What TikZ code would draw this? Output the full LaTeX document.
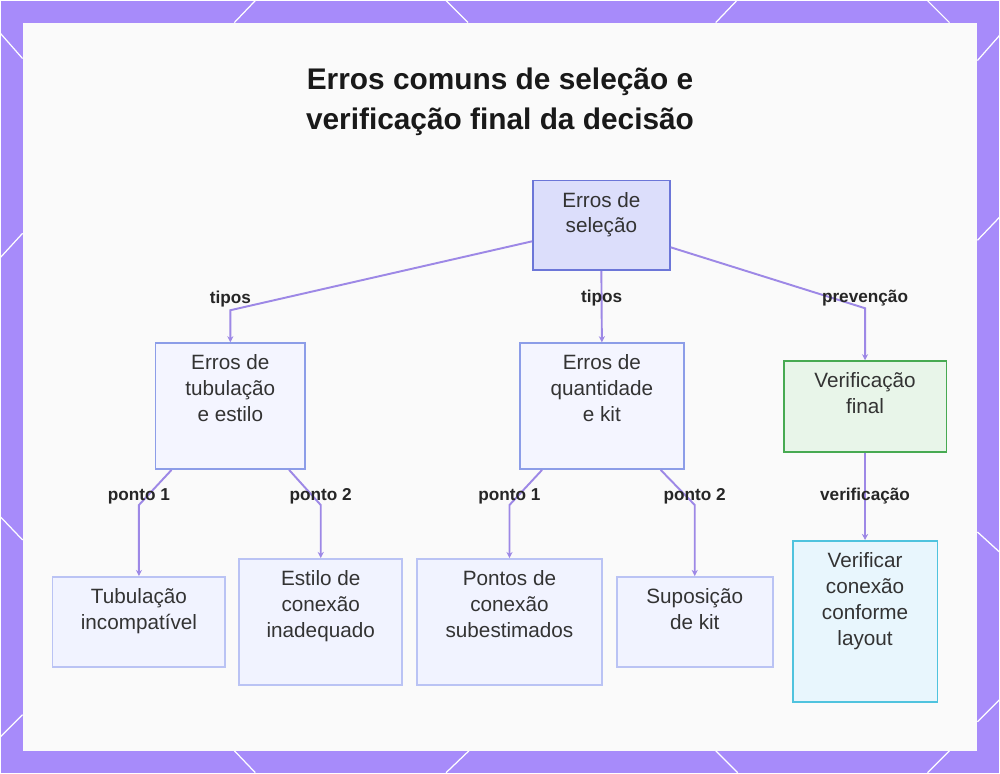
\documentclass[tikz,border=0pt]{standalone}
\usepackage{fontspec}
\setmainfont{Liberation Sans}
\usetikzlibrary{arrows.meta, positioning}

\definecolor{bgpurple}{HTML}{A78BFA}
\definecolor{panelcol}{HTML}{FAFAFA}
\definecolor{edgecol}{HTML}{9D88E6}
\definecolor{textcol}{HTML}{333333}
\definecolor{rootfill}{HTML}{DCDEFB}
\definecolor{rootdraw}{HTML}{6C76D8}
\definecolor{midfill}{HTML}{F4F5FF}
\definecolor{middraw}{HTML}{8C9DE8}
\definecolor{leaffill}{HTML}{F1F3FF}
\definecolor{leafdraw}{HTML}{BAC3F4}
\definecolor{finfill}{HTML}{E8F5E9}
\definecolor{findraw}{HTML}{47AA52}
\definecolor{verfill}{HTML}{E8F6FD}
\definecolor{verdraw}{HTML}{4FC3DE}

\begin{document}
\begin{tikzpicture}[
    x=0.02cm,
    y=-0.02cm,
    box/.style={draw, line width=1pt, inner sep=0pt},
    txt/.style={anchor=north, align=center, inner sep=7pt, text=textcol,
                font=\fontsize{11.8}{14.7}\selectfont},
    lab/.style={font=\fontsize{9.8}{11}\selectfont\bfseries, text=black!85},
    edge/.style={draw=edgecol, line width=1.1pt, -{Stealth[length=3.5pt, width=3.5pt]}},
    deco/.style={draw=white, line width=0.7pt},
]

    % background and panel
    \fill[bgpurple] (0,0) rectangle (1000,773);
    \foreach \xa/\ya/\xb/\yb in {0/33/22/58, 0/257/22/233, 0/517/22/540, 0/737/22/715,
                                 978/60/1000/35, 978/240/1000/217, 978/532/1000/552, 978/722/1000/700,
                                 255/0/234/22, 446/0/468/22, 737/0/716/22, 928/0/950/22,
                                 234/751/255/773, 469/751/446/773, 716/751/738/773, 950/751/928/773}
        \draw[deco] (\xa,\ya) -- (\xb,\yb);
    \fill[panelcol] (22,22) rectangle (978,751);

    % title
    \node[align=center, font=\fontsize{17}{22.8}\selectfont\bfseries, text=black!90] (title) at (500,101)
        {Erros comuns de seleção e\\verificação final da decisão};

    % nodes
    \node[box, fill=rootfill, draw=rootdraw, minimum width=2.74cm, minimum height=1.8cm,
          label={[txt]north:Erros de\\seleção}]                         (sel) at (601.5,225) {};
    \node[box, fill=midfill, draw=middraw, minimum width=3cm, minimum height=2.52cm,
          label={[txt]north:Erros de\\tubulação\\e estilo}]             (tub) at (230,406) {};
    \node[box, fill=midfill, draw=middraw, minimum width=3.28cm, minimum height=2.52cm,
          label={[txt]north:Erros de\\quantidade\\e kit}]               (qtd) at (602,406) {};
    \node[box, fill=finfill, draw=findraw, minimum width=3.26cm, minimum height=1.82cm,
          label={[txt]north:Verificação\\final}]                        (fin) at (865.5,406.5) {};
    \node[box, fill=leaffill, draw=leafdraw, minimum width=3.46cm, minimum height=1.8cm,
          label={[txt]north:Tubulação\\incompatível}]                   (inc) at (138.5,622) {};
    \node[box, fill=leaffill, draw=leafdraw, minimum width=3.26cm, minimum height=2.52cm,
          label={[txt]north:Estilo de\\conexão\\inadequado}]            (est) at (320.5,622) {};
    \node[box, fill=leaffill, draw=leafdraw, minimum width=3.7cm, minimum height=2.52cm,
          label={[txt]north:Pontos de\\conexão\\subestimados}]          (pts) at (509.5,622) {};
    \node[box, fill=leaffill, draw=leafdraw, minimum width=3.12cm, minimum height=1.8cm,
          label={[txt]north:Suposição\\de kit}]                         (sup) at (695,622) {};
    \node[box, fill=verfill, draw=verdraw, minimum width=2.9cm, minimum height=3.22cm,
          label={[txt]north:Verificar\\conexão\\conforme\\layout}]      (ver) at (865.5,621.5) {};

    % bends
    \coordinate (t1) at (tub.north |- 0,310);
    \coordinate (t3) at (fin.north |- 0,308);
    \coordinate (p1) at (inc.north |- 0,505);
    \coordinate (p2) at (est.north |- 0,505);
    \coordinate (p3) at (pts.north |- 0,505);
    \coordinate (p4) at (sup.north |- 0,505);

    % connectors
    \draw[edge] ([yshift=-0.32cm]sel.west) -- (t1) node[lab, yshift=0.22cm] {tipos} -- (tub.north);
    \draw[edge] (sel.south) -- node[lab, pos=0.38] {tipos} (qtd.north);
    \draw[edge] ([yshift=-0.44cm]sel.east) -- (t3) node[lab, yshift=0.2cm] {prevenção} -- (fin.north);
    \draw[edge] ([xshift=0.34cm]tub.south west) -- (p1) node[lab, yshift=0.18cm] {ponto 1} -- (inc.north);
    \draw[edge] ([xshift=-0.34cm]tub.south east) -- (p2) node[lab, yshift=0.18cm] {ponto 2} -- (est.north);
    \draw[edge] ([xshift=0.46cm]qtd.south west) -- (p3) node[lab, yshift=0.18cm] {ponto 1} -- (pts.north);
    \draw[edge] ([xshift=-0.48cm]qtd.south east) -- (p4) node[lab, yshift=0.18cm] {ponto 2} -- (sup.north);
    \draw[edge] (fin.south) -- node[lab, pos=0.49] {verificação} (ver.north);
\end{tikzpicture}
\end{document}
